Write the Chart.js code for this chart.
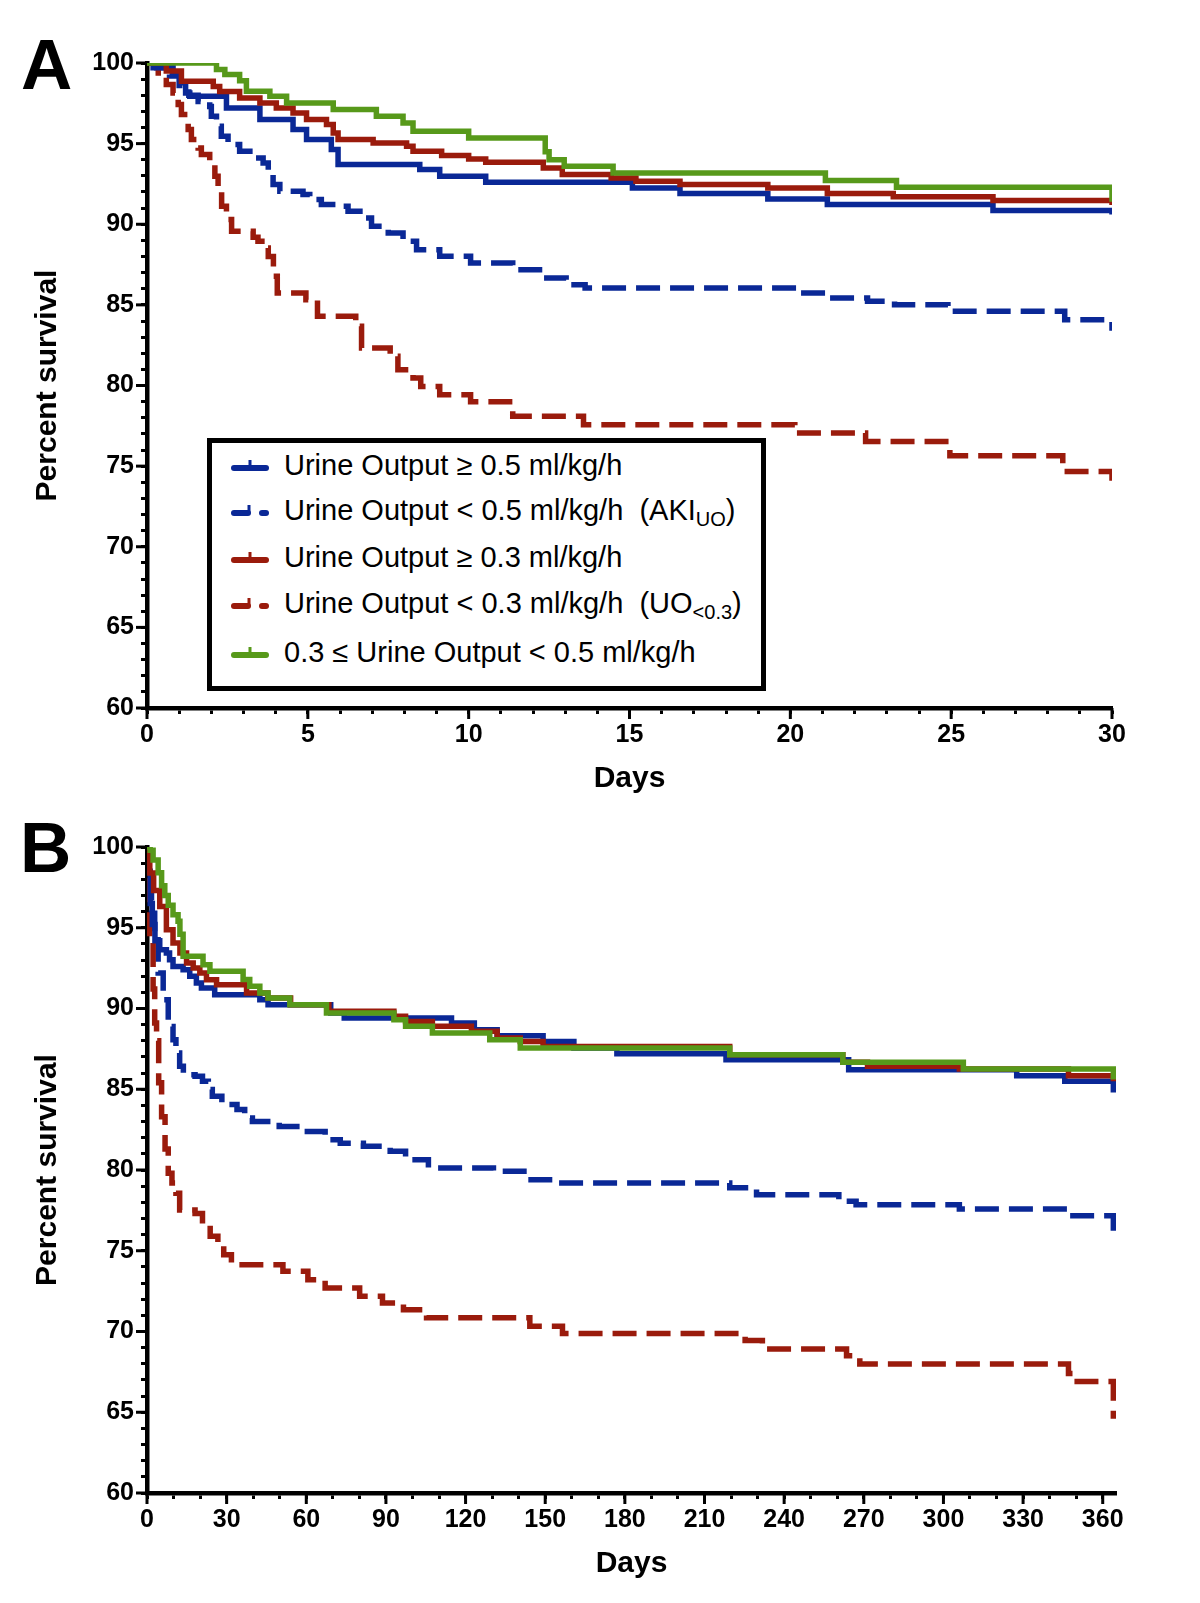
<!DOCTYPE html>
<html>
<head>
<meta charset="utf-8">
<script src="https://cdn.jsdelivr.net/npm/chart.js@4.4.1/dist/chart.umd.min.js"></script>
<style>
html,body{margin:0;padding:0;background:#fff;}
#wrap{position:relative;width:1200px;height:1603px;overflow:hidden;font-family:"Liberation Sans",Arial,sans-serif;color:#000;}
canvas{position:absolute;left:0;}
#cA{top:0;}
#cB{top:800px;}
.panel{position:absolute;font-weight:bold;font-size:71px;line-height:71px;}
#legend{position:absolute;left:207px;top:438px;width:549px;height:243px;border:5px solid #000;background:#fff;}
.row{position:absolute;left:0;height:36px;line-height:36px;font-size:29px;white-space:nowrap;}
.row svg{position:absolute;left:19px;top:8px;}
.row span.t{position:absolute;left:72px;top:0;}
sub{font-size:20px;vertical-align:-6px;line-height:0;}
</style>
</head>
<body>
<div id="wrap">
  <canvas id="cA" width="1200" height="800"></canvas>
  <canvas id="cB" width="1200" height="803"></canvas>
  <div class="panel" style="left:21px;top:29px;">A</div>
  <div class="panel" style="left:20px;top:812px;">B</div>
  <div id="legend"></div>
</div>
<script>
// ---------------- DATA ----------------
const COLORS = { blue: '#0a2896', red: '#9a1b0c', green: '#57991a' };

// Legend labels (HTML for subscripts)
const seriesLabels = [
  'Urine Output \u2265 0.5 ml/kg/h',
  'Urine Output &lt; 0.5 ml/kg/h&nbsp;&nbsp;(AKI<sub>UO</sub>)',
  'Urine Output \u2265 0.3 ml/kg/h',
  'Urine Output &lt; 0.3 ml/kg/h&nbsp;&nbsp;(UO<sub>&lt;0.3</sub>)',
  '0.3 \u2264 Urine Output &lt; 0.5 ml/kg/h'
];

// Panel A – 30-day survival (days, percent survival)
const A_uo05_t = [0, 0.19, 0.81, 1.02, 1.2, 1.33, 2.47, 3.51, 4.54, 4.96, 5.73, 5.94, 8.48, 9.1, 10.53, 15.09, 16.57, 19.3, 21.15, 26.3, 30, 30];
const A_uo05_s = [100, 99.7, 99.28, 98.77, 98.14, 97.94, 97.21, 96.49, 95.87, 95.25, 94.63, 93.7, 93.39, 92.97, 92.6, 92.25, 91.9, 91.57, 91.22, 90.86, 90.86, 90.6];

const A_aki_t = [0, 0.3, 0.7, 1.0, 1.3, 1.59, 1.95, 2.0, 2.16, 2.31, 2.52, 2.88, 3.35, 3.61, 3.77, 3.92, 4.13, 4.85, 5.06, 5.42, 5.99, 6.25, 6.62, 6.98, 7.5, 7.96, 8.38, 9.1, 10.06, 11.37, 12.32, 13.03, 13.62, 20.26, 21.09, 22.4, 23.24, 24.9, 28.53, 30, 30];
const A_aki_s = [100, 99.7, 99.2, 98.6, 98.0, 97.62, 97.31, 96.7, 96.07, 95.45, 94.94, 94.52, 94.11, 93.8, 93.18, 92.46, 92.04, 91.84, 91.53, 91.22, 91.11, 90.8, 90.39, 89.87, 89.46, 88.94, 88.42, 88.01, 87.6, 87.18, 86.67, 86.25, 86.05, 85.74, 85.43, 85.22, 85.01, 84.6, 84.08, 84.08, 83.4];

const A_uo03_t = [0, 0.6, 1.07, 2.06, 2.26, 2.88, 3.51, 4.02, 4.54, 4.96, 5.58, 5.79, 5.94, 7.03, 8.07, 8.27, 9.16, 10.0, 10.53, 12.32, 12.91, 14.43, 15.2, 16.57, 19.3, 21.15, 23.2, 26.3, 30, 30];
const A_uo03_s = [100, 99.5, 98.87, 98.55, 98.24, 97.83, 97.52, 97.21, 96.9, 96.49, 96.18, 95.66, 95.25, 95.04, 94.83, 94.52, 94.26, 94.05, 93.84, 93.49, 93.08, 92.87, 92.66, 92.46, 92.25, 91.9, 91.7, 91.48, 91.48, 91.2];

const A_lt03_t = [0, 0.35, 0.6, 0.81, 0.97, 1.07, 1.28, 1.38, 1.59, 1.69, 1.95, 2.11, 2.21, 2.32, 2.47, 2.63, 3.3, 3.45, 3.66, 3.77, 3.93, 4.05, 4.94, 5.3, 6.49, 6.67, 7.56, 7.8, 8.27, 8.51, 9.1, 10.06, 11.37, 13.57, 20.14, 22.34, 24.96, 28.47, 30, 30];
const A_lt03_s = [100, 99.18, 98.66, 98.14, 97.42, 96.8, 95.87, 95.25, 94.73, 94.32, 93.9, 92.97, 92.04, 91.11, 90.29, 89.56, 89.2, 88.94, 88.53, 88.0, 86.77, 85.74, 85.32, 84.29, 83.67, 82.33, 81.81, 80.98, 80.47, 79.94, 79.43, 79.0, 78.1, 77.57, 77.05, 76.53, 75.64, 74.67, 74.67, 74.1];

const A_mid_t = [0, 2.16, 2.42, 2.88, 3.09, 3.82, 4.34, 5.79, 7.13, 7.96, 8.27, 10.0, 12.38, 12.5, 12.97, 14.49, 21.09, 23.3, 30, 30];
const A_mid_s = [100, 99.59, 99.28, 98.9, 98.25, 97.94, 97.52, 97.11, 96.7, 96.28, 95.76, 95.35, 94.5, 94.0, 93.6, 93.18, 92.72, 92.29, 92.29, 91.4];

// Panel B – 1-year survival (days, percent survival)
const B_uo05_t = [0, 0.5, 1.2, 2, 3, 4.8, 7.3, 8.5, 9.8, 13.6, 16.1, 18.6, 20.5, 25.5, 42.5, 45.6, 69.2, 74.3, 114.7, 123.3, 131.9, 149.2, 160.8, 177, 218.1, 264.3, 327.6, 345.7, 364, 364];
const B_uo05_s = [100, 98.5, 96.5, 95.2, 94.2, 93.64, 93.44, 93.02, 92.6, 92.4, 91.99, 91.58, 91.27, 90.85, 90.54, 90.23, 89.72, 89.41, 89.1, 88.69, 88.32, 87.96, 87.55, 87.2, 86.83, 86.21, 85.84, 85.49, 85.49, 84.8];

const B_aki_t = [0, 0.8, 1.7, 2.9, 4.2, 6.1, 8.0, 9.8, 10.9, 12.3, 13.7, 18.1, 20.9, 23.1, 24.6, 28.2, 33.9, 36.8, 39.7, 49.8, 58.4, 67.1, 72.8, 81.5, 91.6, 97.4, 106, 130.5, 143.5, 155, 219.5, 229.6, 260.6, 267.1, 306, 347.1, 364, 364];
const B_aki_s = [100, 98.0, 95.9, 94.26, 92.2, 90.54, 88.89, 88.07, 87.24, 86.42, 85.9, 85.8, 85.49, 84.98, 84.56, 84.05, 83.74, 83.22, 83.0, 82.7, 82.39, 81.88, 81.66, 81.47, 81.16, 80.64, 80.13, 79.92, 79.4, 79.2, 78.9, 78.47, 78.06, 77.85, 77.58, 77.16, 77.16, 75.7];

const B_uo03_t = [0, 0.4, 1.05, 2.5, 4.8, 7.3, 9.8, 12.4, 14.9, 17.4, 19.9, 22.4, 26.2, 37.5, 45.5, 54.1, 68.5, 93.0, 97.4, 107.5, 122.2, 131.9, 140.6, 149.2, 219.5, 262.1, 271.4, 306, 347.1, 364, 364];
const B_uo03_s = [100, 99.3, 98.39, 97.3, 96.32, 94.88, 94.06, 93.44, 92.82, 92.51, 92.2, 91.78, 91.47, 90.96, 90.65, 90.23, 89.83, 89.52, 89.2, 88.9, 88.59, 88.17, 87.96, 87.65, 87.14, 86.67, 86.42, 86.25, 85.84, 85.84, 85.5];

const B_lt03_t = [0, 0.4, 1.05, 2.3, 2.9, 3.6, 4.4, 5.5, 6.8, 8.0, 9.4, 10.9, 12.3, 18.1, 20.9, 23.8, 26.7, 28.9, 31.8, 51.2, 60.6, 67.1, 80.1, 88.7, 96.6, 105.3, 144.2, 156.5, 225.3, 231.8, 263.5, 268.5, 347.1, 349, 364, 364];
const B_lt03_s = [100, 98.4, 94.3, 91.2, 89.1, 88.0, 85.4, 83.3, 81.3, 79.8, 79.2, 78.56, 77.53, 77.3, 76.6, 75.9, 75.5, 74.76, 74.14, 73.73, 73.2, 72.7, 72.18, 71.77, 71.35, 70.85, 70.33, 69.88, 69.44, 68.92, 68.5, 67.98, 67.4, 66.9, 66.9, 64.6];

const B_mid_t = [0, 1.2, 2.3, 4.2, 5.5, 6.7, 8.0, 9.8, 11.7, 12.4, 13.6, 21.1, 23.7, 36.2, 38.7, 42.5, 45.6, 53.8, 67.6, 93.0, 97.4, 107.5, 129.1, 140.6, 219.5, 262.1, 307.5, 364, 364];
const B_mid_s = [100, 99.8, 99.2, 98.4, 97.6, 97.0, 96.4, 95.8, 95.4, 94.6, 93.23, 92.71, 92.3, 91.8, 91.37, 90.96, 90.65, 90.23, 89.72, 89.3, 88.9, 88.48, 88.07, 87.55, 87.14, 86.67, 86.25, 86.25, 85.6];

// Axis settings
const yMin = 60, yMax = 100, yStep = 1, yMajor = 5;
const A_xMax = 30, A_xStep = 1, A_xMajor = 5;
const B_xMax = 365, B_xStep = 10, B_xMajor = 30;

// ---------------- CHARTS ----------------
Chart.defaults.font.family = '"Liberation Sans", Arial, sans-serif';
Chart.defaults.color = '#000';

const pts = (t, s) => t.map((x, i) => ({ x: x, y: s[i] }));

function ds(label, t, s, color, dashed) {
  return {
    label: label,
    data: pts(t, s),
    borderColor: color,
    backgroundColor: color,
    borderWidth: 5.5,
    borderDash: dashed ? [24, 10] : [],
    borderCapStyle: 'butt',
    borderJoinStyle: 'miter',
    stepped: 'before',
    pointRadius: 0,
    fill: false,
    tension: 0
  };
}

const majorTicks = {
  id: 'majorTicks',
  afterDraw(chart, args, o) {
    const ctx = chart.ctx, ca = chart.chartArea;
    const xs = chart.scales.x, ys = chart.scales.y;
    ctx.save();
    ctx.strokeStyle = '#000';
    ctx.lineWidth = 3;
    xs.ticks.forEach(t => {
      if (Math.abs(t.value % o.xMajor) < 1e-6) {
        const p = xs.getPixelForValue(t.value);
        ctx.beginPath(); ctx.moveTo(p, ca.bottom); ctx.lineTo(p, ca.bottom + o.len); ctx.stroke();
      }
    });
    ys.ticks.forEach(t => {
      if (Math.abs(t.value % o.yMajor) < 1e-6) {
        const p = ys.getPixelForValue(t.value);
        ctx.beginPath(); ctx.moveTo(ca.left, p); ctx.lineTo(ca.left - o.len, p); ctx.stroke();
      }
    });
    ctx.restore();
  }
};

function makeChart(id, sets, xMax, xStep, xMajor, pad) {
  return new Chart(document.getElementById(id), {
    type: 'line',
    data: { datasets: sets },
    plugins: [majorTicks],
    options: {
      responsive: false,
      animation: false,
      layout: { padding: pad },
      plugins: {
        legend: { display: false },
        tooltip: { enabled: false },
        majorTicks: { xMajor: xMajor, yMajor: yMajor, len: 11 }
      },
      scales: {
        x: {
          type: 'linear', min: 0, max: xMax,
          afterFit: s => { s.height = 89; },
          border: { display: true, color: '#000', width: 4.5 },
          grid: { display: true, drawOnChartArea: false, drawTicks: true, tickLength: 6, tickWidth: 3, tickColor: '#000' },
          ticks: {
            stepSize: xStep, includeBounds: false, autoSkip: false, maxRotation: 0, padding: 6,
            font: { size: 25, weight: 'bold' }, color: '#000',
            callback: v => (v % xMajor === 0 ? String(v) : '')
          },
          title: { display: true, text: 'Days', font: { size: 30, weight: 'bold' }, color: '#000', padding: { top: 0, bottom: 0 } }
        },
        y: {
          type: 'linear', min: yMin, max: yMax,
          afterFit: s => { s.width = 147; },
          border: { display: true, color: '#000', width: 4.5 },
          grid: { display: true, drawOnChartArea: false, drawTicks: true, tickLength: 6, tickWidth: 3, tickColor: '#000' },
          ticks: {
            stepSize: yStep, autoSkip: false, padding: 7,
            font: { size: 25, weight: 'bold' }, color: '#000',
            callback: v => (v % yMajor === 0 ? String(v) : '')
          },
          title: { display: true, text: 'Percent survival', font: { size: 30, weight: 'bold' }, color: '#000', padding: { top: 30, bottom: 0 } }
        }
      }
    }
  });
}

makeChart('cA', [
  ds(seriesLabels[4], A_mid_t, A_mid_s, COLORS.green, false),
  ds(seriesLabels[2], A_uo03_t, A_uo03_s, COLORS.red, false),
  ds(seriesLabels[0], A_uo05_t, A_uo05_s, COLORS.blue, false),
  ds(seriesLabels[3], A_lt03_t, A_lt03_s, COLORS.red, true),
  ds(seriesLabels[1], A_aki_t, A_aki_s, COLORS.blue, true)
], A_xMax, A_xStep, A_xMajor, { top: 63, right: 88, bottom: 3, left: 0 });

makeChart('cB', [
  ds(seriesLabels[4], B_mid_t, B_mid_s, COLORS.green, false),
  ds(seriesLabels[2], B_uo03_t, B_uo03_s, COLORS.red, false),
  ds(seriesLabels[0], B_uo05_t, B_uo05_s, COLORS.blue, false),
  ds(seriesLabels[3], B_lt03_t, B_lt03_s, COLORS.red, true),
  ds(seriesLabels[1], B_aki_t, B_aki_s, COLORS.blue, true)
], B_xMax, B_xStep, B_xMajor, { top: 47, right: 84, bottom: 21, left: 0 });

// ---------------- LEGEND (HTML) ----------------
const legendColors = [COLORS.blue, COLORS.blue, COLORS.red, COLORS.red, COLORS.green];
const legendDashed = [false, true, false, true, false];
const legendRowTops = [4, 49, 96, 142, 191];
const leg = document.getElementById('legend');
seriesLabels.forEach((lab, i) => {
  const c = legendColors[i];
  const line = legendDashed[i]
    ? `<line x1="3" y1="13" x2="17" y2="13" stroke="${c}" stroke-width="6" stroke-linecap="round"/><line x1="31" y1="13" x2="35" y2="13" stroke="${c}" stroke-width="6" stroke-linecap="round"/>`
    : `<line x1="3" y1="13" x2="35" y2="13" stroke="${c}" stroke-width="6" stroke-linecap="round"/>`;
  const tickX = legendDashed[i] ? 18 : 19;
  const svg = `<svg width="40" height="20" viewBox="0 0 40 20">${line}<line x1="${tickX}" y1="5" x2="${tickX}" y2="13" stroke="${c}" stroke-width="3"/></svg>`;
  const row = document.createElement('div');
  row.className = 'row';
  row.style.top = legendRowTops[i] + 'px';
  row.innerHTML = svg + '<span class="t">' + lab + '</span>';
  leg.appendChild(row);
});
</script>
</body>
</html>
